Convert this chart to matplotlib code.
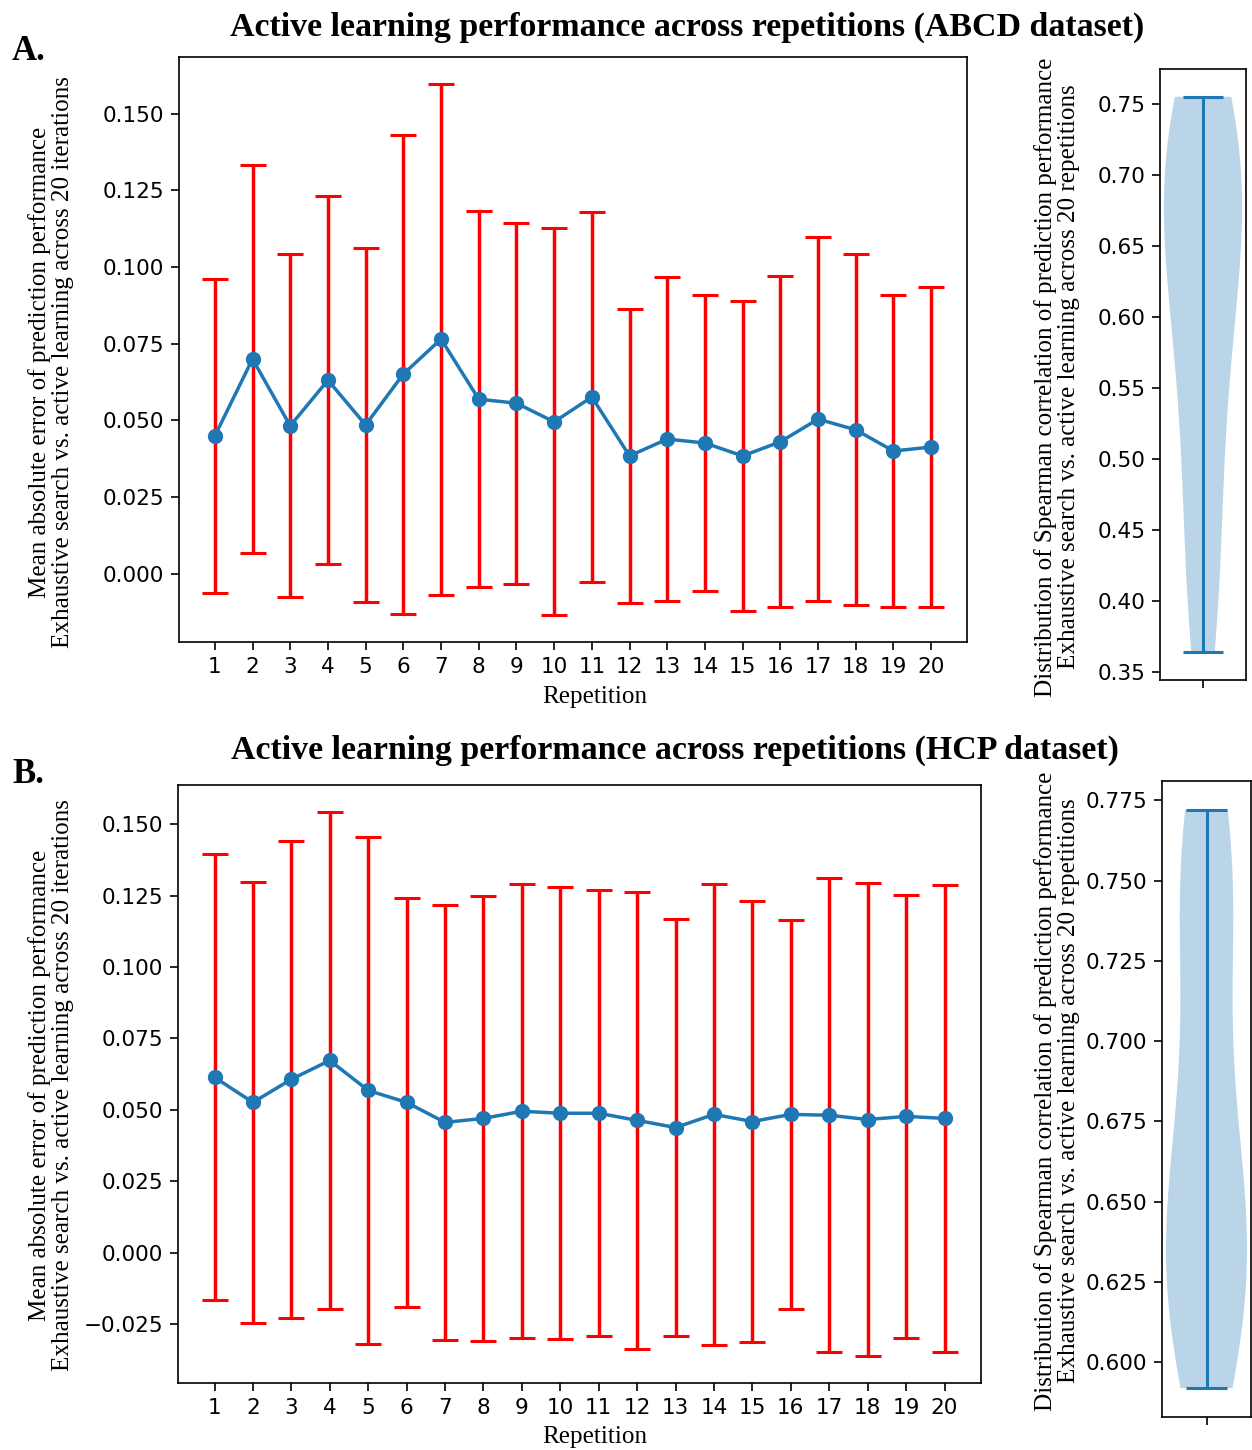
import matplotlib
matplotlib.use("Agg")
import matplotlib.pyplot as plt
import matplotlib.ticker as mticker

repetitions = list(range(1, 21))

abcd_mean = [0.0449, 0.0700, 0.0482, 0.0631, 0.0485, 0.0651, 0.0765, 0.0569, 0.0556, 0.0495,
             0.0576, 0.0384, 0.0439, 0.0426, 0.0384, 0.0430, 0.0504, 0.0469, 0.0400, 0.0413]
abcd_err = [0.0511, 0.0634, 0.0559, 0.0599, 0.0576, 0.0781, 0.0833, 0.0612, 0.0589, 0.0631,
            0.0602, 0.0478, 0.0527, 0.0482, 0.0504, 0.0540, 0.0593, 0.0572, 0.0508, 0.0521]

hcp_mean = [0.0614, 0.0526, 0.0607, 0.0673, 0.0568, 0.0526, 0.0456, 0.0470, 0.0495, 0.0488,
            0.0488, 0.0463, 0.0438, 0.0484, 0.0459, 0.0484, 0.0481, 0.0466, 0.0477, 0.0470]
hcp_err = [0.0782, 0.0772, 0.0835, 0.0870, 0.0888, 0.0716, 0.0761, 0.0779, 0.0796, 0.0792,
           0.0782, 0.0800, 0.0730, 0.0807, 0.0772, 0.0681, 0.0831, 0.0828, 0.0775, 0.0817]

abcd_spearman = [0.364, 0.395, 0.43, 0.465, 0.50, 0.53, 0.56, 0.585, 0.605, 0.625,
                 0.64, 0.655, 0.67, 0.685, 0.70, 0.715, 0.728, 0.738, 0.747, 0.755]
hcp_spearman = [0.592, 0.600, 0.608, 0.615, 0.622, 0.628, 0.634, 0.640, 0.648, 0.656,
                0.665, 0.676, 0.692, 0.710, 0.728, 0.742, 0.752, 0.760, 0.767, 0.772]

titles = ["Active learning performance across repetitions (ABCD dataset)",
          "Active learning performance across repetitions (HCP dataset)"]
panel_labels = ["A.", "B."]
main_ylabel = ("Mean absolute error of prediction performance\n"
               "Exhaustive search vs. active learning across 20 iterations")
violin_ylabel = ("Distribution of Spearman correlation of prediction performance\n"
                 "Exhaustive search vs. active learning across 20 repetitions")
xlabel = "Repetition"

W, H = 1252, 1450
fig = plt.figure(figsize=(W / 100, H / 100), dpi=100)

serif = "Liberation Serif"
tick_fs = 15.5
lab_fs = 18.1
title_fs = 24.4

def px_axes(l, t, r, b):
    return fig.add_axes([l / W, 1 - b / H, (r - l) / W, (b - t) / H])

main_boxes = [(179, 57, 967, 642), (178, 785, 981, 1383)]
violin_boxes = [(1160, 69, 1246, 680), (1162, 781, 1251, 1417)]
means = [abcd_mean, hcp_mean]
errs = [abcd_err, hcp_err]
spears = [abcd_spearman, hcp_spearman]
title_pos = [(687, 27), (675, 750)]
label_pos = [(28, 52), (28, 775)]
ylab_y = [362, 1085]
vlab_y = [377, 1091]
xlab_y = [697, 1437]

def minus_fmt(v, p):
    return ('\u2212' if v < -1e-9 else '') + '%.3f' % abs(v)

for i in range(2):
    ax = px_axes(*main_boxes[i])
    ax.errorbar(repetitions, means[i], yerr=errs[i], fmt='-o', color='#1f77b4',
                ecolor='red', elinewidth=2.5, capsize=9.5, capthick=2.2,
                markersize=10, linewidth=2.5)
    ax.set_xticks(repetitions)
    ax.tick_params(labelsize=tick_fs, length=6, width=1.2, pad=4.5)
    for s in ax.spines.values():
        s.set_linewidth(1.2)
    ax.yaxis.set_major_locator(mticker.MultipleLocator(0.025))
    ax.yaxis.set_major_formatter(mticker.FuncFormatter(minus_fmt))

    vax = px_axes(*violin_boxes[i])
    parts = vax.violinplot(spears[i])
    for key in ('cbars', 'cmins', 'cmaxes'):
        parts[key].set_linewidth(2.2)
    vax.set_xticks([1])
    vax.set_xticklabels([''])
    vax.tick_params(labelsize=tick_fs, length=6, width=1.2, pad=4.5)
    for s in vax.spines.values():
        s.set_linewidth(1.2)
    if i == 0:
        vax.yaxis.set_major_locator(mticker.MultipleLocator(0.05))
        vax.yaxis.set_major_formatter(mticker.FormatStrFormatter('%.2f'))
    else:
        vax.yaxis.set_major_locator(mticker.MultipleLocator(0.025))
        vax.yaxis.set_major_formatter(mticker.FormatStrFormatter('%.3f'))

    fig.text(title_pos[i][0] / W, 1 - title_pos[i][1] / H, titles[i], family=serif,
             fontweight='bold', fontsize=title_fs, ha='center', va='center')
    fig.text(label_pos[i][0] / W, 1 - label_pos[i][1] / H, panel_labels[i], family=serif,
             fontweight='bold', fontsize=25, ha='center', va='center')
    fig.text(51 / W, 1 - ylab_y[i] / H, main_ylabel, family=serif, fontsize=lab_fs,
             rotation=90, ha='center', va='center', multialignment='center',
             linespacing=1.05)
    fig.text(1057 / W, 1 - vlab_y[i] / H, violin_ylabel, family=serif, fontsize=lab_fs,
             rotation=90, ha='center', va='center', multialignment='center',
             linespacing=1.05)
    fig.text(595 / W, 1 - xlab_y[i] / H, xlabel, family=serif, fontsize=lab_fs,
             ha='center', va='center')

fig.savefig("out.png", dpi=100)
